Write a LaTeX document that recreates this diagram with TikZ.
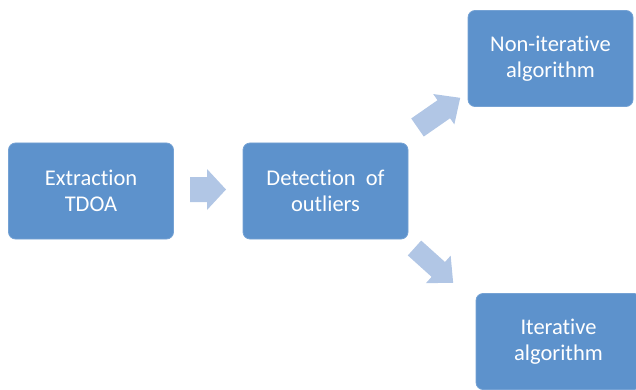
\documentclass[tikz,border=0pt]{standalone}
\usepackage{fontspec}
\setmainfont[Ligatures=NoCommon]{Carlito}
\definecolor{boxblue}{RGB}{93,146,204}
\definecolor{arrowblue}{RGB}{177,198,229}
\tikzset{
  box/.style={draw=boxblue!85!white, line width=0.8pt, fill=boxblue, rounded corners=7pt,
    text=white, align=center, font=\fontsize{22.5}{25.5}\selectfont,
    minimum width=165pt, minimum height=96pt, inner sep=0pt, outer sep=0pt},
  blockarrow/.style={fill=arrowblue, draw=none}
}
% #1 name, #2 tail mid, #3 angle, #4 length, #5 shaft width, #6 head width, #7 head length
\newcommand{\blkarrow}[7]{%
  \begin{scope}[shift={#2}, rotate=#3]
    \coordinate (#1-tail) at (0,0);
    \coordinate (#1-tip) at (#4,0);
    \fill[blockarrow] (0,{#5/2}) -- ({#4-#7},{#5/2}) -- ({#4-#7},{#6/2}) -- (#1-tip)
      -- ({#4-#7},{-#6/2}) -- ({#4-#7},{-#5/2}) -- (0,{-#5/2}) -- cycle;
  \end{scope}}
\begin{document}
\begin{tikzpicture}[x=1pt,y=-1pt]
  \useasboundingbox (0,0) rectangle (636,390);
  \clip (0,0) rectangle (636,390);
  \node[box] (extract) at (91,191) {Extraction\\TDOA};
  \node[box] (detect) at (325.5,191) {Detection\hspace{0.45em}of\\outliers};
  \node[box] (noniter) at (550.5,58.5) {Non-iterative\\algorithm};
  \node[box] (iter) at (558.5,341.5) {Iterative\\algorithm};
  \blkarrow{a1}{(190,189.5)}{0}{36}{25}{41}{19}
  \blkarrow{a2}{(417.5,127.5)}{34.8}{52}{22}{37}{20}
  \blkarrow{a3}{(414.5,248)}{-42}{52}{20}{37}{20}
\end{tikzpicture}
\end{document}
